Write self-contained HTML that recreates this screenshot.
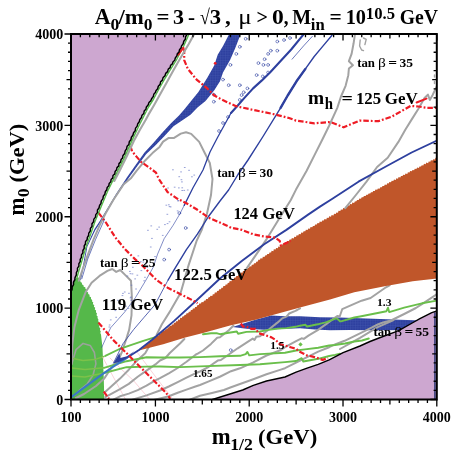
<!DOCTYPE html><html><head><meta charset="utf-8"><style>html,body{margin:0;padding:0;background:#fff}svg{display:block;will-change:transform}</style></head><body>
<svg width="452" height="457" viewBox="0 0 452 457">
<rect width="452" height="457" fill="#fff"/>
<defs><clipPath id="c"><rect x="71.0" y="34.0" width="365.8" height="365.5"/></clipPath><pattern id="g" width="2.5" height="2.5" patternUnits="userSpaceOnUse"><rect width="2.5" height="2.5" fill="#2e409f"/><path d="M0,0.3H2.5M0.3,0V2.5" stroke="#4356ae" stroke-width="0.4"/></pattern></defs>
<g clip-path="url(#c)" fill="none" stroke-linejoin="round" stroke-linecap="round">
<path d="M71.0,34.0 L187.0,34.5 L181.9,46.0 L174.5,60.0 L168.6,69.3 L163.4,77.8 L157.3,88.5 L152.0,98.5 L146.6,107.0 L141.3,117.5 L137.0,126.0 L129.5,141.9 L122.4,157.8 L114.4,173.7 L106.5,189.6 L99.8,205.6 L93.2,221.5 L89.2,233.3 L85.2,243.9 L81.2,257.2 L77.3,270.4 L74.6,279.7 L71.0,292.0 L71.0,292.0Z" fill="#cda7d0"/>
<path d="M71.0,292.0 L74.6,279.7 L78.0,277.0 L80.3,280.3 L80.5,281.9 L81.9,282.7 L82.0,284.4 L83.4,285.1 L83.7,286.7 L85.3,287.3 L85.5,289.0 L86.9,289.8 L86.8,291.5 L88.1,292.4 L88.2,293.9 L89.6,294.8 L89.5,296.4 L91.0,297.3 L91.0,298.9 L92.2,299.9 L92.1,301.4 L93.3,302.5 L92.8,304.2 L94.3,305.1 L93.9,306.8 L95.2,307.8 L94.8,309.5 L96.1,310.5 L95.9,312.2 L97.0,313.5 L96.5,315.2 L97.7,316.4 L97.5,318.1 L98.4,319.4 L98.2,321.1 L99.1,322.4 L98.5,324.1 L99.6,325.4 L99.1,327.1 L100.4,328.4 L99.9,330.0 L100.8,331.4 L100.3,333.1 L101.0,334.5 L102.5,347.8 L103.3,366.0 L103.8,379.6 L104.3,399.0 L71.0,399.5Z" fill="#55b84a"/>
<path d="M71.7,363.9 L76.0,349.7 L83.1,343.4 L90.2,345.4 L94.4,352.5 L95.9,363.9 L93.0,375.3 L87.3,383.8 L80.2,389.5 L74.5,395.2" stroke="#9aa39a" stroke-width="1.6"/>
<path d="M71.7,358.2L83,360.5L94.4,359.6L104,356.5M71.7,368L85,369.5L104,367.8M71.7,376L85,377L104,373" stroke="#7cc24a" stroke-width="1.5"/>
<path d="M102.7,357.3 L125.3,399 M110,358 L121.8,369.7 L133.3,380.4 L149.2,398.9 M137,352 L158,380 L172,398" stroke="#f6b3c0" stroke-width="0.6"/>
<path d="M232.4,326.9 L255.4,319.8 L271.3,315.4 L285.0,316.3 L300.0,316.2 L320.0,317.2 L340.0,317.5 L360.0,318.3 L400.0,319.8 L422.0,320.5 L405.0,330.0 L385.0,330.2 L371.8,330.2 L350.0,330.0 L330.0,330.2 L315.0,329.5 L300.0,328.2 L282.0,328.9 L264.2,329.7 L246.5,328.8Z" fill="url(#g)"/>
<path d="M212.5,399.5 L236.4,392.0 L242.7,390.0 L253.3,385.4 L266.5,381.0 L285.0,377.0 L296.1,372.1 L307.1,368.2 L318.2,364.3 L329.2,359.9 L343.1,352.6 L360.0,346.0 L370.0,341.5 L377.7,338.5 L395.4,331.8 L400.0,329.9 L413.1,322.5 L419.9,318.7 L431.8,312.7 L437.0,311.0 L437.0,400.0 L212.5,400.0Z" fill="#cda7d0"/>
<path d="M229.2,34.0 L223.0,45.9 L217.7,54.8 L214.2,65.4 L207.3,77.8 L198.4,91.9 L191.3,100.8 L184.2,109.6 L179.0,115.5 L170.5,123.8 L162.0,133.0 L153.3,143.0 L144.5,152.5 L135.8,164.8 L127.0,177.2 L115.7,194.5 L107.8,207.7 L99.8,221.0 L94.5,229.0 L86.5,246.5 L82.6,267.8 L80.0,279.7 L80.9,279.7 L83.5,267.8 L87.4,246.5 L95.4,230.0 L100.7,222.0 L108.7,208.7 L116.6,195.5 L128.4,178.6 L137.2,166.2 L146.3,153.9 L155.3,145.4 L164.5,136.0 L173.5,126.2 L182.8,120.0 L190.5,114.8 L197.5,107.5 L205.5,101.0 L214.3,90.2 L220.0,81.3 L223.0,72.5 L230.1,60.1 L235.4,47.7 L240.7,34.0Z" fill="url(#g)"/>
<path d="M104.0,393.1 L120.0,378.6 L128.8,369.7 L135.9,361.8 L145.2,353.3 L149.1,346.6" stroke="#a3a3a3" stroke-width="2"/>
<path d="M105.3,397.1 L120.0,389.2 L128.8,383.9 L137.7,376.8 L146.5,370.6 L155.4,364.4 L160.0,360.5 L165.4,358.0 L169.8,353.0 L180.0,343.5 L184.4,339.0" stroke="#a3a3a3" stroke-width="2"/>
<path d="M113.0,400.0 L120.0,396.3 L128.8,393.6 L137.7,390.1 L146.5,385.7 L155.4,380.4 L160.0,378.2 L168.8,373.3 L177.7,368.0 L186.5,361.8 L188.8,360.0 L195.9,354.5 L197.7,353.6 L203.0,350.5 L211.0,343.9 L217.2,337.7 L220.0,337.2 L228.8,330.2 L233.3,325.8" stroke="#a3a3a3" stroke-width="2"/>
<path d="M131.5,400.0 L146.5,395.4 L160.0,390.5 L168.8,386.5 L177.7,382.1 L186.5,377.7 L195.4,373.3 L200.0,371.5 L208.8,366.8 L217.7,360.6 L220.9,360.0 L228.8,354.5 L237.7,348.3 L246.5,342.6 L252.7,338.6 L254.5,339.9 L256.3,336.8 L260.0,336.2 L268.8,329.5 L277.7,322.4 L282.1,318.4 L286.5,316.6 L289.2,313.5 L295.4,310.9 L297.2,310.0 L300.0,308.3" stroke="#a3a3a3" stroke-width="2"/>
<path d="M153.6,400.0 L160.0,398.5 L168.8,396.3 L177.7,392.7 L186.5,389.6 L195.4,386.5 L200.0,385.0 L208.8,381.4 L220.4,376.5 L231.0,371.2 L240.0,368.3 L253.3,362.4 L266.5,355.5 L281.0,350.0 L285.0,347.2 L296.1,341.1 L301.6,338.3 L303.8,338.9 L308.8,335.4 L317.7,330.1 L326.5,323.9 L335.4,317.3 L337.6,315.9 L339.7,316.5 L342.2,309.2 L361.6,300.7 L370.6,298.0 L386.0,287.3 L389.6,285.4" stroke="#a3a3a3" stroke-width="2"/>
<path d="M189.2,400.0 L200.0,395.8 L212.0,393.0 L223.9,390.0 L231.0,387.2 L240.0,384.0 L253.3,379.2 L266.5,374.3 L280.0,369.9 L285.0,368.2 L296.1,362.7 L307.1,357.1 L318.2,351.6 L329.2,347.2 L335.0,344.4 L344.6,340.8 L360.0,333.4 L370.6,328.1 L377.7,324.5 L383.0,322.5 L391.0,320.5 L404.2,314.0 L415.9,308.0 L423.9,302.8 L437.0,294.0" stroke="#a3a3a3" stroke-width="2"/>
<path d="M340.0,349.0 L360.0,337.8 L377.7,327.2 L393.6,320.1" stroke="#a3a3a3" stroke-width="2"/>
<path d="M138.5,350.0 L140.2,350.0 L140.5,348.3 L142.3,348.5 L142.5,346.6 L144.3,346.8 L144.8,345.2 L146.3,345.0 L146.6,343.3 L148.4,343.4 L148.6,341.7 L150.3,341.6 L150.8,340.2 L152.3,340.0 L152.8,338.5 L154.5,338.5 L155.1,337.1 L156.5,336.8 L157.1,335.4 L158.8,335.5 L159.1,333.7 L160.7,333.7 L161.2,332.1 L162.8,332.1 L163.4,330.6 L164.9,330.5 L165.6,329.2 L167.2,329.1 L167.7,327.5 L169.2,327.3 L169.6,325.7 L171.4,326.0 L171.9,324.4 L173.6,324.4 L173.9,322.7 L175.6,322.8 L176.1,321.2 L177.8,321.3 L178.1,319.5 L179.9,319.7 L180.2,317.8 L181.8,317.9 L182.4,316.4 L183.9,316.3 L184.6,314.9 L186.0,314.7 L186.6,313.3 L188.3,313.3 L188.8,311.8 L190.4,311.7 L190.9,310.1 L192.4,310.0 L192.9,308.4 L194.6,308.5 L195.1,307.0 L196.7,306.9 L197.2,305.2 L198.8,305.1 L199.3,303.5 L201.0,303.5 L201.6,302.0 L203.4,302.2 L204.0,300.7 L205.6,300.6 L206.1,298.9 L207.8,298.9 L208.4,297.5 L209.8,297.1 L210.6,295.8 L212.3,295.9 L212.8,294.2 L214.4,294.2 L214.8,292.4 L216.7,292.6 L217.1,291.0 L218.8,290.8 L219.2,289.3 L221.0,289.3 L221.4,287.8 L223.0,287.7 L223.3,285.9 L225.2,286.1 L225.6,284.5 L227.3,284.5 L227.7,282.9 L229.2,282.7 L229.7,281.1 L231.5,281.2 L231.9,279.5 L233.7,279.5 L234.1,277.7 L235.8,277.6 L236.3,276.1 L237.9,275.9 L238.6,274.5 L240.1,274.2 L240.7,272.6 L242.5,272.8 L243.0,271.1 L244.5,270.9 L245.0,269.3 L246.8,269.5 L247.4,267.9 L249.0,267.8 L249.5,266.2 L251.3,266.4 L251.8,264.7 L253.4,264.7 L254.1,263.3 L255.7,263.3 L256.3,261.7 L257.9,261.5 L258.3,259.8 L260.0,259.8 L260.5,258.3 L262.4,258.5 L262.8,256.7 L264.5,256.9 L265.1,255.4 L266.7,255.3 L267.3,254.0 L269.0,254.1 L269.5,252.5 L271.1,252.5 L271.6,250.8 L273.4,251.2 L273.8,249.3 L275.6,249.6 L276.1,248.1 L277.8,248.3 L278.4,246.6 L280.0,246.7 L280.6,245.2 L282.1,245.2 L282.8,243.8 L284.6,244.0 L284.9,242.1 L286.7,242.5 L287.3,240.9 L288.9,241.0 L289.7,239.6 L291.3,239.6 L291.9,238.0 L293.7,238.4 L294.3,236.8 L296.0,237.0 L296.6,235.2 L298.3,235.5 L298.9,233.9 L300.7,234.2 L301.3,232.6 L303.0,232.8 L303.6,231.2 L305.3,231.3 L305.9,229.7 L307.6,230.0 L308.3,228.5 L310.0,228.7 L310.5,227.0 L312.2,227.2 L313.0,225.9 L314.5,225.9 L315.2,224.4 L316.8,224.6 L317.5,223.0 L319.2,223.3 L319.7,221.6 L321.5,222.0 L322.2,220.4 L323.8,220.6 L324.5,219.0 L326.3,219.4 L326.9,217.8 L328.6,218.1 L329.2,216.3 L331.0,216.7 L331.6,214.9 L333.5,215.5 L334.0,213.8 L335.7,213.9 L336.4,212.5 L338.0,212.7 L338.5,210.8 L340.3,211.1 L340.9,209.5 L342.6,209.8 L343.2,208.1 L344.8,208.2 L345.5,206.7 L347.2,207.0 L347.8,205.4 L349.5,205.6 L350.1,204.0 L351.8,204.3 L352.4,202.6 L354.1,202.9 L354.8,201.4 L356.3,201.3 L357.1,199.9 L358.7,200.1 L359.4,198.6 L361.0,198.8 L361.7,197.2 L363.2,197.3 L364.0,195.9 L365.6,196.1 L366.4,194.8 L367.9,194.8 L368.7,193.5 L370.2,193.5 L371.0,192.2 L372.5,192.2 L373.2,190.9 L374.8,191.0 L375.5,189.5 L377.2,189.8 L377.9,188.4 L379.6,188.7 L380.3,187.2 L381.8,187.2 L382.5,185.9 L384.1,186.0 L384.9,184.6 L386.5,184.9 L387.2,183.3 L388.6,183.4 L389.4,182.0 L391.0,182.2 L391.7,180.8 L393.3,181.0 L394.0,179.6 L395.8,180.1 L396.3,178.3 L398.0,178.7 L398.6,177.1 L400.3,177.5 L401.0,176.1 L402.5,176.1 L403.3,174.8 L404.9,175.1 L405.5,173.4 L407.3,174.0 L407.9,172.3 L409.5,172.6 L410.1,171.0 L411.7,171.2 L412.6,170.1 L414.1,170.3 L414.8,168.7 L416.4,168.9 L417.1,167.5 L418.8,168.0 L419.5,166.4 L421.0,166.6 L421.8,165.3 L423.3,165.4 L424.0,163.8 L425.7,164.2 L426.3,162.6 L428.1,163.2 L428.7,161.5 L430.3,161.7 L430.9,160.2 L432.6,160.6 L433.3,159.2 L434.9,159.4 L435.5,157.8 L437.0,157.8 L437.0,278.4 L412.7,281.2 L386.0,286.1 L354.3,292.2 L330.0,299.5 L300.0,307.4 L255.4,319.8 L230.0,325.4 L203.0,333.1 L185.3,337.5 L163.2,344.2 L138.8,350.4Z" fill="#c0562a"/>
<path d="M354.9,34.6 L353.6,43.3 L351.6,53.9 L348.9,61.2 L352.9,65.2 L348.9,68.5 L348.3,75.2 L345.6,85.8 L340.8,97.0 L337.3,107.9 L329.0,126.0 L322.5,139.2 L314.5,155.1 L306.5,171.0 L296.0,189.6 L290.8,200.0 L279.7,217.7 L267.6,237.6 L258.7,250.9 L246.5,268.6" stroke="#a3a3a3" stroke-width="2"/>
<path d="M437.0,86.0 L432.5,95.2 L429.8,99.9 L427.9,94.6 L424.5,97.9 L418.6,108.5 L411.9,119.1 L405.3,129.8 L398.4,141.9 L387.7,157.8 L377.1,167.0 L366.5,181.7 L355.9,195.0 L345.3,208.2" stroke="#a3a3a3" stroke-width="2"/>
<path d="M78.8,280.8 L82.7,269.0 L87.7,255.2 L93.6,239.4 L99.5,225.6 L105.4,213.8 L113.3,200.0 L123.7,184.3 L131.2,177.9 L136.5,170.8 L145.4,160.2 L152.5,153.1 L159.6,146.9 L163.1,141.6 L168.4,138.1 L173.7,138.1 L180.8,133.6 L186.0,132.3 L191.2,133.9 L199.2,141.9 L204.5,152.5 L209.8,163.0 L212.5,179.0 L211.0,195.0 L207.0,213.5 L201.9,229.5 L196.5,241.2 L188.6,265.1 L180.6,293.0 L170.8,310.1 L161.9,324.2 L156.6,334.9" stroke="#a3a3a3" stroke-width="2"/>
<path d="M71.7,363.9 L72.3,344.0 L74.5,326.9 L78.8,309.8 L85.7,292.0 L91.6,282.8 L99.5,275.9 L107.4,270.9 L112.3,269.0 L116.2,271.9 L120.2,270.0 L125.1,274.9 L131.0,280.8 L131.9,297.7 L131.5,315.4 L129.2,329.6 L126.5,338.4 L121.9,352.0 L117.3,362.6 L113.3,365.0 L104.3,378.4 L96.0,386.0 L84.0,394.0 L76.0,398.0" stroke="#a3a3a3" stroke-width="2"/>
<path d="M105.3,355.9 L119.5,349.0 L130.0,345.3 L143.3,340.8 L155.4,337.1" stroke="#6abf4b" stroke-width="1.9"/>
<path d="M104.0,367.8 L126.6,361.2 L146.5,357.3 L160.0,357.5 L180.0,357.5 L200.0,357.1 L220.0,356.3 L240.0,355.8 L245.7,354.1 L247.4,351.9 L249.2,355.4 L260.0,354.1 L285.0,352.7 L296.1,350.5 L304.9,349.4 L318.2,347.7 L329.2,345.5 L335.0,345.0 L345.0,343.5 L354.3,341.5 L362.0,340.5 L368.8,338.5" stroke="#6abf4b" stroke-width="1.9"/>
<path d="M104.0,373.0 L126.6,367.2 L146.5,366.6 L160.0,366.5 L180.0,367.1 L200.0,366.4 L240.0,365.0 L260.0,364.3 L285.0,362.1 L296.1,361.0 L301.6,358.2 L303.3,361.5 L318.2,358.8 L329.2,356.0 L335.0,354.9 L340.0,353.7" stroke="#6abf4b" stroke-width="1.9"/>
<path d="M203.0,334.2 L211.0,333.3 L217.2,333.3 L220.0,334.2 L228.8,332.8 L236.8,331.5 L238.1,333.7 L246.5,331.9 L260.0,331.5 L268.8,329.9 L277.7,328.6 L286.5,328.1 L295.4,326.8 L300.0,325.7 L305.3,324.8 L307.1,326.5 L317.7,324.3 L326.5,322.1 L335.4,318.6 L337.2,318.6 L340.0,321.2 L341.0,321.4 L354.3,317.5 L360.0,316.5 L377.7,313.0 L386.5,311.2 L388.0,307.7 L389.2,312.1 L404.2,307.7 L421.9,303.3 L437.0,300.6" stroke="#6abf4b" stroke-width="1.9"/>
<path d="M303.6,34.4 L291.2,49.5 L280.6,61.0 L270.0,72.5 L261.9,80.4 L253.1,88.4 L244.2,98.1 L238.0,105.2 L231.0,113.0" stroke="#2e409f" stroke-width="2.1"/>
<path d="M231.0,113.0 L217.8,137.0 L210.0,152.0 L203.0,170.0 L193.0,187.7 L184.2,205.4" stroke="#2e409f" stroke-width="1.3"/>
<path d="M184.2,205.4 L179.7,214.2 L173.1,225.3 L164.2,238.6 L157.6,254.1 L153.2,267.3 L146.0,280.0 L135.4,297.7 L124.8,311.9 L110.6,327.8 L101.8,347.3" stroke="#2e409f" stroke-width="0.6"/>
<path d="M332.0,35.3 L323.1,45.9 L314.2,56.5 L305.4,68.9 L296.5,81.3 L287.7,95.5 L280.6,107.9 L263.0,136.5 L248.0,160.0 L238.0,174.5 L228.6,190.0 L220.0,201.0 L208.5,216.5 L197.4,234.2 L186.4,249.6 L174.2,269.6 L168.1,280.0" stroke="#2e409f" stroke-width="1.4"/>
<path d="M305.4,68.9 L296.5,81.3 L287.7,95.5 L280.6,107.9" stroke="#2e409f" stroke-width="2.4"/>
<path d="M168.1,280.0 L154.9,304.8 L144.2,317.2 L133.6,329.6 L123.0,343.7 L113.5,363.0" stroke="#2e409f" stroke-width="0.8"/>
<path d="M437.0,140.5 L411.6,152.5 L385.0,167.0 L358.5,181.7 L332.0,199.0 L320.0,206.6 L308.5,214.4 L286.4,229.9 L264.2,244.2 L242.1,260.8 L220.0,278.5 L196.4,300.5 L174.2,320.9 L152.1,339.7 L139.0,350.0 L126.6,358.0" stroke="#2e409f" stroke-width="1.9"/>
<path d="M126.6,358.0 L113.3,366.6 L100.0,375.9 L71.5,397.0" stroke="#3b78c6" stroke-width="2.1"/>
<path d="M113.3,363.5L119.5,353L120.3,358L127,356.3L134.5,351L126.5,358.5L119,362Z" fill="#2e409f"/>
<path d="M169.1,221.8h0.9M178.8,176.7h0.9M180.6,171.9h0.9M162.3,235.4h0.9M147.5,230.3h0.9M165.9,205.2h0.9M145.1,264.0h0.9M172.5,169.8h0.9M183.8,190.4h0.9M130.7,300.2h0.9M140.9,270.6h0.9M191.5,176.8h0.9M136.9,275.2h0.9M143.4,259.7h0.9M124.3,292.0h0.9M142.9,262.1h0.9M135.6,289.0h0.9M178.4,187.9h0.9M174.2,187.2h0.9M132.0,273.9h0.9M124.3,310.2h0.9M140.4,261.7h0.9M117.4,300.3h0.9M144.5,277.3h0.9M129.4,271.4h0.9M166.9,214.3h0.9M184.3,167.5h0.9M187.3,190.0h0.9M181.8,187.8h0.9M128.0,308.4h0.9M137.9,255.9h0.9M125.6,306.2h0.9M150.8,225.9h0.9M181.8,190.5h0.9M168.4,204.8h0.9M177.2,210.9h0.9M156.8,229.3h0.9M134.7,278.9h0.9M143.7,280.8h0.9M122.5,293.4h0.9M158.7,227.1h0.9M146.8,267.4h0.9M177.7,200.7h0.9M193.8,175.1h0.9M181.0,179.7h0.9M119.9,304.6h0.9M170.2,206.9h0.9M167.6,188.0h0.9M151.5,238.4h0.9M181.5,181.9h0.9M130.1,297.9h0.9M115.7,317.3h0.9M154.6,256.6h0.9M109.2,325.0h0.9M169.1,206.6h0.9M128.5,293.3h0.9M167.1,223.6h0.9M108.9,327.0h0.9M122.0,295.6h0.9M150.3,247.0h0.9M188.6,170.3h0.9M127.0,276.0h0.9M110.3,319.9h0.9M164.5,224.6h0.9M177.7,200.8h0.9M114.9,310.6h0.9M132.4,267.3h0.9M130.0,273.7h0.9M131.0,285.2h0.9M130.4,297.1h0.9" stroke="#5b6bc0" stroke-width="0.8" opacity="0.8"/>
<g stroke="#2e409f" stroke-width="0.6" fill="none"><circle cx="245.7" cy="38.8" r="1.4"/><circle cx="239.8" cy="46.8" r="1.4"/><circle cx="236.3" cy="53.9" r="1.4"/><circle cx="230.4" cy="64.9" r="1.4"/><circle cx="223.0" cy="79.6" r="1.4"/><circle cx="228.7" cy="85.2" r="1.4"/><circle cx="213.8" cy="87.0" r="1.4"/><circle cx="213.8" cy="94.6" r="1.4"/><circle cx="213.8" cy="101.7" r="1.4"/><circle cx="239.8" cy="85.2" r="1.4"/><circle cx="247.4" cy="88.4" r="1.4"/><circle cx="243.7" cy="92.3" r="1.4"/><circle cx="241.6" cy="95.1" r="1.4"/><circle cx="239.8" cy="99.9" r="1.4"/><circle cx="256.6" cy="75.1" r="1.4"/><circle cx="262.8" cy="76.4" r="1.4"/><circle cx="268.1" cy="72.5" r="1.4"/><circle cx="263.4" cy="64.9" r="1.4"/><circle cx="268.1" cy="64.9" r="1.4"/><circle cx="258.4" cy="63.1" r="1.4"/><circle cx="264.6" cy="59.2" r="1.4"/><circle cx="270.8" cy="50.7" r="1.4"/><circle cx="268.1" cy="53.9" r="1.4"/><circle cx="277.3" cy="41.5" r="1.4"/><circle cx="277.3" cy="50.7" r="1.4"/><circle cx="185.7" cy="228.0" r="1.4"/><circle cx="169.1" cy="249.6" r="1.4"/><circle cx="164.2" cy="259.6" r="1.4"/><circle cx="179.3" cy="213.1" r="1.4"/><circle cx="230.7" cy="350.1" r="1.4"/><circle cx="284.0" cy="40.0" r="1.4"/><circle cx="290.0" cy="38.0" r="1.4"/><circle cx="228.0" cy="117.0" r="1.4"/><circle cx="223.0" cy="123.0" r="1.4"/><circle cx="219.0" cy="131.0" r="1.4"/></g>
<path d="M300.5,342.2l2.2,2.2l-2.2,2.2l-2.2,-2.2z" fill="#6abf4b"/>
<path d="M184.2,48.5 L184.2,60.1 L187.8,68.9 L196.6,79.6 L207.3,88.4 L214.3,95.5 L221.5,99.5 L236.0,106.2 L254.5,110.2 L273.0,114.0 L289.0,118.0 L296.0,120.6 L314.5,123.3 L330.4,122.0 L343.7,127.3 L359.6,120.6 L378.2,121.2 L392.0,116.5 L401.3,111.2 L410.6,105.9 L418.6,106.5 L426.5,107.8 L437.0,107.8" stroke="#ee1c25" stroke-width="2.2" stroke-dasharray="5.5 2 1.8 2" stroke-linecap="butt"/>
<path d="M130.4,146.0 L132.1,151.3 L136.5,156.6 L141.0,161.9 L148.9,167.3 L156.0,172.6 L158.7,178.8 L167.6,192.1 L177.5,198.8 L186.4,203.2 L197.4,209.8 L208.5,217.6 L220.0,222.6 L231.1,227.7 L242.1,229.9 L253.2,234.3 L264.2,236.5 L275.3,237.6 L279.7,240.9 L280.8,245.4 L286.4,243.1 L290.8,240.9" stroke="#ee1c25" stroke-width="2.2" stroke-dasharray="5.5 2 1.8 2" stroke-linecap="butt"/>
<path d="M98.5,212.8 L105.4,221.7 L115.3,237.4 L125.1,249.3 L135.0,259.1 L142.8,266.0 L156.5,280.0 L167.6,287.7 L180.9,294.4 L191.9,299.9 L197.5,303.2" stroke="#ee1c25" stroke-width="2.2" stroke-dasharray="5.5 2 1.8 2" stroke-linecap="butt"/>
<path d="M98.5,322.6 L113.0,339.8 L126.4,353.0 L139.6,366.4 L152.9,379.6 L166.2,392.9 L170.2,398.8" stroke="#ee1c25" stroke-width="2.2" stroke-dasharray="5.5 2 1.8 2" stroke-linecap="butt"/>
<path d="M103.8,391.6 L109.0,398.8" stroke="#ee1c25" stroke-width="2.2" stroke-dasharray="5.5 2 1.8 2" stroke-linecap="butt"/>
<path d="M240.8,323.5 L243.0,326.6 L246.5,326.6 L251.0,328.8 L255.4,328.8 L258.9,333.3 L265.3,335.2 L271.5,337.4 L275.9,340.1 L279.5,344.1 L285.0,345.5 L290.5,347.2 L296.1,348.8 L299.4,351.6 L302.7,353.3 L307.1,355.5 L312.7,356.6 L318.2,358.2 L322.6,359.9 L328.1,358.2" stroke="#ee1c25" stroke-width="2.2" stroke-dasharray="5.5 2 1.8 2" stroke-linecap="butt"/>
<path d="M434.9,313V399" stroke="#1b2a6b" stroke-width="1.3"/>
<path d="M194.0,34.4 L188.6,44.2 L179.3,60.0 L173.3,70.6 L167.4,81.2 L160.7,93.2 L154.0,105.2 L148.6,114.4 L145.6,120.0 L139.8,130.0 L133.8,141.0 L126.9,156.0 L120.0,170.0 L114.3,181.0" stroke="#a6a6a6" stroke-width="2.1"/>
<path d="M71.0,292.0 L74.6,279.7 L77.3,270.4 L81.2,257.2 L85.2,243.9 L89.2,233.3 L93.2,221.5 L99.8,205.6 L106.5,189.6 L114.4,173.7 L122.4,157.8 L129.5,141.9 L137.0,126.0 L141.3,117.5 L146.6,107.0 L152.0,98.5 L157.3,88.5 L163.4,77.8 L168.6,69.3 L174.5,60.0 L181.9,46.0 L187.0,34.5" stroke="#55b84a" stroke-width="1.4" transform="translate(1.6,0.5)"/>
<path d="M360.2,40L359.6,46L361.6,50L363.5,50.6M363.5,38L366.2,39.3L364.9,44.6M434.5,75v2M434.5,81.5v2" stroke="#a3a3a3" stroke-width="1.4"/>
<path d="M183.4,47.7L178,54.8M416.6,102.5L426.5,98.6" stroke="#ee1c25" stroke-width="2"/>
<circle cx="215.2" cy="63.3" r="1.4" fill="#ee1c25"/>
<path d="M292.1,59.2L303.6,45.9L312.5,36.2M104.4,219.7L95.6,239.4L87.7,259.1L81.8,278.8" stroke="#2e409f" stroke-width="0.7"/>
<path d="M70.8,291.9 L72.0,289.6 L72.2,287.0 L73.5,284.7 L73.5,282.1 L74.8,279.8 L75.1,277.3 L76.3,275.2 L76.4,272.7 L77.5,270.5 L77.5,268.1 L78.9,266.1 L78.9,263.7 L80.2,261.7 L80.2,259.3 L81.4,257.3 L81.5,254.9 L82.9,252.9 L82.9,250.5 L84.2,248.4 L84.2,246.0 L85.4,244.0 L85.6,241.6 L87.1,239.8 L87.4,237.4 L88.6,235.5 L88.8,233.2 L90.3,231.0 L90.4,228.5 L92.0,226.4 L92.0,223.7 L93.6,221.7 L93.9,219.1 L95.5,217.1 L95.8,214.6 L97.4,212.6 L97.5,210.0 L99.0,208.0 L99.6,205.5 L101.0,203.4 L101.3,200.9 L102.9,198.9 L103.3,196.3 L104.8,194.3 L105.3,191.8 L106.8,189.7 L107.2,187.5 L108.8,185.8 L109.2,183.5 L110.8,181.8 L111.1,179.5 L112.8,177.9 L113.0,175.5 L114.8,173.9 L115.1,171.6 L116.6,169.8 L117.0,167.6 L118.8,165.9 L119.0,163.6 L120.7,161.9 L121.1,159.6 L122.6,157.9 L123.0,155.4 L124.7,153.4 L125.2,150.9 L126.6,148.8 L127.1,146.3 L128.9,144.4 L129.3,141.8 L130.9,139.8 L131.4,137.2 L132.9,135.2 L133.6,132.7 L135.2,130.7 L135.6,128.1 L137.2,126.1 L137.8,123.7 L139.3,121.8 L139.9,119.5 L141.5,117.6 L142.0,115.2 L143.8,113.5 L144.2,111.1 L145.9,109.3 L146.4,106.9 L148.1,105.0 L149.0,102.6 L150.8,100.7 L151.8,98.4 L153.3,96.6 L153.8,94.3 L155.4,92.6 L156.1,90.4 L157.7,88.7 L158.3,86.2 L160.1,84.4 L160.6,81.9 L162.4,80.1 L163.1,77.6 L165.0,75.8 L165.7,73.4 L167.6,71.6 L168.3,69.1 L170.1,67.6 L170.6,65.3 L172.4,63.9 L173.1,61.7 L174.8,60.2 L175.3,57.9 L176.8,56.1 L177.3,53.8 L179.0,52.1 L179.5,49.8 L181.0,48.1 L181.6,45.9 L183.2,43.8 L183.8,41.3 L185.3,39.2 L185.7,36.7 L187.0,34.5" stroke="#000" stroke-width="1.5"/>
<path d="M212.5,399.5 L236.4,392.0 L242.7,390.0 L253.3,385.4 L266.5,381.0 L285.0,377.0 L296.1,372.1 L307.1,368.2 L318.2,364.3 L329.2,359.9 L343.1,352.6 L360.0,346.0 L370.0,341.5 L377.7,338.5 L395.4,331.8 L400.0,329.9 L413.1,322.5 L419.9,318.7 L431.8,312.7 L437.0,311.0" stroke="#000" stroke-width="1.4"/>
</g>
<rect x="71.0" y="34.0" width="365.8" height="365.5" fill="none" stroke="#000" stroke-width="2"/>
<path d="M64.5,399.50h6.5M430.4,399.50h6.4M68.0,390.36h3.0M433.6,390.36h3.2M68.0,381.23h3.0M433.6,381.23h3.2M68.0,372.09h3.0M433.6,372.09h3.2M68.0,362.95h3.0M433.6,362.95h3.2M66.5,353.81h4.5M432.2,353.81h4.6M68.0,344.68h3.0M433.6,344.68h3.2M68.0,335.54h3.0M433.6,335.54h3.2M68.0,326.40h3.0M433.6,326.40h3.2M68.0,317.26h3.0M433.6,317.26h3.2M64.5,308.12h6.5M430.4,308.12h6.4M68.0,298.99h3.0M433.6,298.99h3.2M68.0,289.85h3.0M433.6,289.85h3.2M68.0,280.71h3.0M433.6,280.71h3.2M68.0,271.57h3.0M433.6,271.57h3.2M66.5,262.44h4.5M432.2,262.44h4.6M68.0,253.30h3.0M433.6,253.30h3.2M68.0,244.16h3.0M433.6,244.16h3.2M68.0,235.03h3.0M433.6,235.03h3.2M68.0,225.89h3.0M433.6,225.89h3.2M64.5,216.75h6.5M430.4,216.75h6.4M68.0,207.61h3.0M433.6,207.61h3.2M68.0,198.47h3.0M433.6,198.47h3.2M68.0,189.34h3.0M433.6,189.34h3.2M68.0,180.20h3.0M433.6,180.20h3.2M66.5,171.06h4.5M432.2,171.06h4.6M68.0,161.93h3.0M433.6,161.93h3.2M68.0,152.79h3.0M433.6,152.79h3.2M68.0,143.65h3.0M433.6,143.65h3.2M68.0,134.51h3.0M433.6,134.51h3.2M64.5,125.38h6.5M430.4,125.38h6.4M68.0,116.24h3.0M433.6,116.24h3.2M68.0,107.10h3.0M433.6,107.10h3.2M68.0,97.96h3.0M433.6,97.96h3.2M68.0,88.82h3.0M433.6,88.82h3.2M66.5,79.69h4.5M432.2,79.69h4.6M68.0,70.55h3.0M433.6,70.55h3.2M68.0,61.41h3.0M433.6,61.41h3.2M68.0,52.27h3.0M433.6,52.27h3.2M68.0,43.14h3.0M433.6,43.14h3.2M64.5,34.00h6.5M430.4,34.00h6.4M71.00,399.5v7.0M71.00,34.0v3.2M80.38,399.5v3.5M80.38,34.0v3.2M89.76,399.5v3.5M89.76,34.0v3.2M99.14,399.5v3.5M99.14,34.0v3.2M108.52,399.5v5.0M108.52,34.0v4.6M117.90,399.5v3.5M117.90,34.0v3.2M127.28,399.5v3.5M127.28,34.0v3.2M136.66,399.5v3.5M136.66,34.0v3.2M146.04,399.5v3.5M146.04,34.0v3.2M155.42,399.5v7.0M155.42,34.0v6.4M164.79,399.5v3.5M164.79,34.0v3.2M174.17,399.5v3.5M174.17,34.0v3.2M183.55,399.5v3.5M183.55,34.0v3.2M192.93,399.5v3.5M192.93,34.0v3.2M202.31,399.5v5.0M202.31,34.0v4.6M211.69,399.5v3.5M211.69,34.0v3.2M221.07,399.5v3.5M221.07,34.0v3.2M230.45,399.5v3.5M230.45,34.0v3.2M239.83,399.5v3.5M239.83,34.0v3.2M249.21,399.5v7.0M249.21,34.0v6.4M258.59,399.5v3.5M258.59,34.0v3.2M267.97,399.5v3.5M267.97,34.0v3.2M277.35,399.5v3.5M277.35,34.0v3.2M286.73,399.5v3.5M286.73,34.0v3.2M296.11,399.5v5.0M296.11,34.0v4.6M305.49,399.5v3.5M305.49,34.0v3.2M314.87,399.5v3.5M314.87,34.0v3.2M324.25,399.5v3.5M324.25,34.0v3.2M333.63,399.5v3.5M333.63,34.0v3.2M343.01,399.5v7.0M343.01,34.0v6.4M352.38,399.5v3.5M352.38,34.0v3.2M361.76,399.5v3.5M361.76,34.0v3.2M371.14,399.5v3.5M371.14,34.0v3.2M380.52,399.5v3.5M380.52,34.0v3.2M389.90,399.5v5.0M389.90,34.0v4.6M399.28,399.5v3.5M399.28,34.0v3.2M408.66,399.5v3.5M408.66,34.0v3.2M418.04,399.5v3.5M418.04,34.0v3.2M427.42,399.5v3.5M427.42,34.0v3.2M436.80,399.5v7.0M436.80,34.0v6.4" stroke="#000" stroke-width="1.3" fill="none"/>
<g font-family="Liberation Serif, serif" font-weight="bold" fill="#000">
<text x="63.2" y="404.6" font-size="14" text-anchor="end">0</text>
<text x="63.2" y="313.2" font-size="14" text-anchor="end">1000</text>
<text x="63.2" y="221.8" font-size="14" text-anchor="end">2000</text>
<text x="63.2" y="130.5" font-size="14" text-anchor="end">3000</text>
<text x="63.2" y="39.1" font-size="14" text-anchor="end">4000</text>
<text x="71.0" y="422" font-size="14" text-anchor="middle">100</text>
<text x="155.4" y="422" font-size="14" text-anchor="middle">1000</text>
<text x="249.2" y="422" font-size="14" text-anchor="middle">2000</text>
<text x="343.0" y="422" font-size="14" text-anchor="middle">3000</text>
<text x="436.8" y="422" font-size="14" text-anchor="middle">4000</text>
<text transform="translate(94.69,24.40) scale(0.977,1)" font-size="22.50">A</text>
<text transform="translate(110.53,30.10) scale(1.011,1)" font-size="17.50">0</text>
<text transform="translate(118.52,24.40) scale(1.038,1)" font-size="22.00">/m</text>
<text transform="translate(143.64,30.10) scale(0.998,1)" font-size="17.50">0</text>
<text transform="translate(156.56,24.40) scale(1.086,1)" font-size="21.00">=</text>
<text transform="translate(172.97,24.40) scale(1.045,1)" font-size="21.00">3</text>
<text transform="translate(187.92,24.40) scale(1.008,1)" font-size="21.00">-</text>
<text transform="translate(200.05,24.40) scale(0.856,1)" font-size="21.00" font-weight="normal">√</text>
<text transform="translate(209.65,24.40) scale(1.079,1)" font-size="21.00">3</text>
<text transform="translate(225.09,24.40) scale(1.102,1)" font-size="21.00">,</text>
<text transform="translate(238.26,24.40) scale(1.168,1)" font-size="21.50" font-weight="normal">μ</text>
<text transform="translate(256.58,24.40) scale(0.953,1)" font-size="21.00">&gt;</text>
<text transform="translate(271.90,24.40) scale(1.124,1)" font-size="21.00">0</text>
<text transform="translate(283.65,24.40) scale(0.911,1)" font-size="21.00">,</text>
<text transform="translate(292.26,24.40) scale(0.978,1)" font-size="20.50">M</text>
<text transform="translate(310.83,29.90) scale(0.993,1)" font-size="16.80">in</text>
<text transform="translate(329.43,24.40) scale(1.024,1)" font-size="21.00">=</text>
<text transform="translate(345.67,24.40) scale(0.967,1)" font-size="21.00">10</text>
<text transform="translate(365.87,18.60) scale(0.991,1)" font-size="16.80">10.5</text>
<text transform="translate(399.64,24.40) scale(0.918,1)" font-size="21.50">GeV</text>
<text transform="translate(211.69,443.50) scale(1.008,1)" font-size="22.50">m</text>
<text transform="translate(230.18,449.50) scale(1.014,1)" font-size="17.50">1/2</text>
<text transform="translate(257.90,443.50) scale(1.033,1)" font-size="22.00">(GeV)</text>
<g transform="translate(23.6,0.8) rotate(-90)">
<text transform="translate(-214.78,0.00) scale(0.958,1)" font-size="22.50">m</text>
<text transform="translate(-196.48,5.30) scale(1.025,1)" font-size="17.50">0</text>
<text transform="translate(-181.69,0.00) scale(1.024,1)" font-size="22.00">(GeV)</text>
</g>
<text transform="translate(357.19,66.80) scale(1.001,1)" font-size="12.80">tan</text>
<text transform="translate(378.11,66.80) scale(1.187,1)" font-size="13.00" font-weight="normal">β</text>
<text transform="translate(388.23,66.80) scale(1.210,1)" font-size="12.80">=</text>
<text transform="translate(399.39,66.80) scale(1.080,1)" font-size="12.50">35</text>
<text transform="translate(217.19,176.80) scale(1.001,1)" font-size="12.80">tan</text>
<text transform="translate(238.11,176.80) scale(1.187,1)" font-size="13.00" font-weight="normal">β</text>
<text transform="translate(248.23,176.80) scale(1.210,1)" font-size="12.80">=</text>
<text transform="translate(259.39,176.80) scale(1.082,1)" font-size="12.50">30</text>
<text transform="translate(99.89,266.80) scale(1.001,1)" font-size="12.80">tan</text>
<text transform="translate(120.81,266.80) scale(1.187,1)" font-size="13.00" font-weight="normal">β</text>
<text transform="translate(130.93,266.80) scale(1.210,1)" font-size="12.80">=</text>
<text transform="translate(142.03,266.80) scale(1.085,1)" font-size="12.50">25</text>
<text transform="translate(373.39,336.40) scale(1.001,1)" font-size="12.80">tan</text>
<text transform="translate(394.31,336.40) scale(1.187,1)" font-size="13.00" font-weight="normal">β</text>
<text transform="translate(404.43,336.40) scale(1.210,1)" font-size="12.80">=</text>
<text transform="translate(415.56,336.40) scale(1.083,1)" font-size="12.50">55</text>
<text transform="translate(308.08,103.80) scale(1.021,1)" font-size="19.00">m</text>
<text transform="translate(324.83,109.20) scale(0.904,1)" font-size="16.50">h</text>
<text transform="translate(341.50,103.80) scale(1.143,1)" font-size="17.50">=</text>
<text transform="translate(355.95,104.00) scale(0.979,1)" font-size="17.20">125</text>
<text transform="translate(384.87,104.00) scale(0.988,1)" font-size="17.20">GeV</text>
<text transform="translate(233.39,218.90) scale(0.977,1)" font-size="16.80">124</text>
<text transform="translate(262.17,218.90) scale(0.996,1)" font-size="17.00">GeV</text>
<text transform="translate(174.06,280.30) scale(1.017,1)" font-size="16.50">122.5</text>
<text transform="translate(214.99,280.30) scale(0.977,1)" font-size="17.00">GeV</text>
<text transform="translate(101.64,309.80) scale(1.029,1)" font-size="16.50">119</text>
<text transform="translate(130.48,309.80) scale(0.993,1)" font-size="17.00">GeV</text>
<text transform="translate(376.96,306.00) scale(1.084,1)" font-size="10.80">1.3</text>
<text transform="translate(270.28,348.90) scale(1.062,1)" font-size="10.80">1.5</text>
<text transform="translate(193.01,377.30) scale(1.032,1)" font-size="10.80">1.65</text>
</g>
</svg>
</body></html>
